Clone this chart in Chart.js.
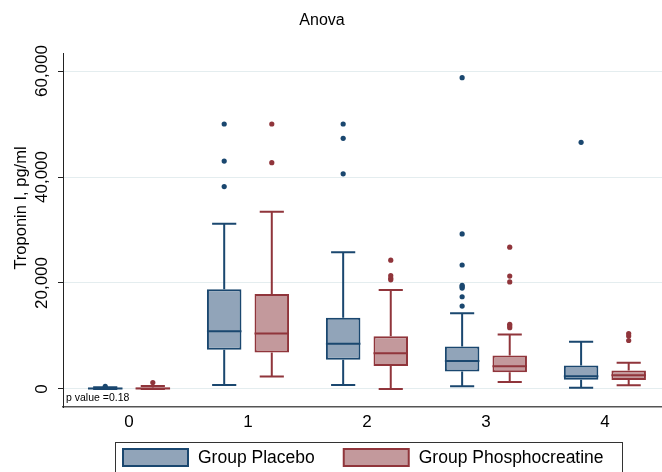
<!DOCTYPE html>
<html>
<head>
<meta charset="utf-8">
<script src="https://cdn.jsdelivr.net/npm/chart.js@4.4.1/dist/chart.umd.min.js"></script>
<style>
html, body { margin: 0; padding: 0; background: #fff; }
</style>
</head>
<body>
<canvas id="myChart" width="662" height="472"></canvas>
<script>
// categories on the x axis and tick values on the y axis
var categories = [0, 1, 2, 3, 4];
var y_ticks = [0, 20000, 40000, 60000];

// Group Placebo
var placebo_low = [0, 750, 750, 500, 250];
var placebo_q1 = [0, 7400, 5500, 3300, 1750];
var placebo_median = [100, 10900, 8550, 5300, 2400];
var placebo_q3 = [250, 18800, 13450, 8000, 4450];
var placebo_high = [350, 31200, 25800, 14300, 8900];
var placebo_outliers = [
  [500],
  [38200, 43000, 50000],
  [40600, 47300, 50000],
  [15650, 17400, 19050, 19300, 19550, 23400, 29250, 58750],
  [46550]
];

// Group Phosphocreatine
var pc_low = [0, 2350, 0, 1300, 700];
var pc_q1 = [0, 6900, 4350, 3150, 1700];
var pc_median = [100, 10450, 6750, 4300, 2600];
var pc_q3 = [300, 17900, 9950, 6300, 3500];
var pc_high = [550, 33450, 18700, 10300, 4950];
var pc_outliers = [
  [1200],
  [42700, 50000],
  [20600, 20900, 21400, 24300],
  [11550, 11900, 12200, 20200, 21300, 26750],
  [9150, 10000, 10450]
];

var font_family = "'Liberation Sans', Arial, Helvetica, sans-serif";

var groups = [
  { label: 'Group Placebo', low: placebo_low, q1: placebo_q1, median: placebo_median,
    q3: placebo_q3, high: placebo_high, outliers: placebo_outliers,
    fill: 'rgb(145, 164, 185)', line: 'rgb(26, 71, 111)' },
  { label: 'Group Phosphocreatine', low: pc_low, q1: pc_q1, median: pc_median,
    q3: pc_q3, high: pc_high, outliers: pc_outliers,
    fill: 'rgb(195, 153, 156)', line: 'rgb(144, 53, 59)' }
];

function box_data (g) {
  return categories.map(function (c, i) {
    return { x: c, y: [g.q1[i], g.q3[i]] };
  });
}

var box_plugin = {
  id: 'boxes',
  beforeDatasetsDraw: function (chart) {
    var ctx = chart.ctx;
    var ys = chart.scales.y;
    groups.forEach(function (g, di) {
      var meta = chart.getDatasetMeta(di);
      meta.data.forEach(function (bar, i) {
        var cap = bar.width * 0.7;
        ctx.save();
        ctx.strokeStyle = g.line;
        ctx.lineWidth = 2;
        ctx.beginPath();
        ctx.moveTo(bar.x, ys.getPixelForValue(g.q3[i]));
        ctx.lineTo(bar.x, ys.getPixelForValue(g.high[i]));
        ctx.moveTo(bar.x, ys.getPixelForValue(g.q1[i]));
        ctx.lineTo(bar.x, ys.getPixelForValue(g.low[i]));
        ctx.moveTo(bar.x - cap / 2, ys.getPixelForValue(g.high[i]));
        ctx.lineTo(bar.x + cap / 2, ys.getPixelForValue(g.high[i]));
        ctx.moveTo(bar.x - cap / 2, ys.getPixelForValue(g.low[i]));
        ctx.lineTo(bar.x + cap / 2, ys.getPixelForValue(g.low[i]));
        ctx.stroke();
        ctx.restore();
      });
    });
  },
  afterDatasetsDraw: function (chart) {
    var ctx = chart.ctx;
    var ys = chart.scales.y;
    groups.forEach(function (g, di) {
      var meta = chart.getDatasetMeta(di);
      meta.data.forEach(function (bar, i) {
        var half = bar.width / 2;
        var my = ys.getPixelForValue(g.median[i]);
        ctx.save();
        ctx.strokeStyle = g.line;
        ctx.lineWidth = 2;
        ctx.beginPath();
        ctx.moveTo(bar.x - half, my);
        ctx.lineTo(bar.x + half, my);
        ctx.stroke();
        ctx.fillStyle = g.line;
        g.outliers[i].forEach(function (v) {
          ctx.beginPath();
          ctx.arc(bar.x, ys.getPixelForValue(v), 2.6, 0, Math.PI * 2);
          ctx.fill();
        });
        ctx.restore();
      });
    });
  },
  afterDraw: function (chart) {
    var ctx = chart.ctx;
    var ys = chart.scales.y;
    ctx.save();
    ctx.fillStyle = '#000';

    // title
    ctx.font = '16px ' + font_family;
    ctx.textAlign = 'center';
    ctx.textBaseline = 'middle';
    ctx.fillText('Anova', 322, 21);

    // rotated y tick labels
    ctx.font = '17px ' + font_family;
    y_ticks.forEach(function (v) {
      ctx.save();
      ctx.translate(42, ys.getPixelForValue(v));
      ctx.rotate(-Math.PI / 2);
      ctx.fillText(v.toLocaleString('en-US'), 0, 0);
      ctx.restore();
    });

    // y axis title
    ctx.save();
    ctx.font = '16.5px ' + font_family;
    ctx.translate(21, 208);
    ctx.rotate(-Math.PI / 2);
    ctx.fillText('Troponin I, pg/ml', 0, 0);
    ctx.restore();

    // p value note
    ctx.font = '10.5px ' + font_family;
    ctx.textAlign = 'left';
    ctx.fillText('p value =0.18', 66, 398);

    // legend
    ctx.strokeStyle = '#333';
    ctx.lineWidth = 1;
    ctx.strokeRect(115.5, 442.5, 507, 40);
    ctx.font = '17.5px ' + font_family;
    var x = 123;
    groups.forEach(function (g) {
      ctx.fillStyle = g.fill;
      ctx.fillRect(x, 449, 65, 17);
      ctx.strokeStyle = g.line;
      ctx.lineWidth = 2;
      ctx.strokeRect(x, 449, 65, 17);
      ctx.fillStyle = '#000';
      ctx.fillText(g.label, x + 75, 458);
      x += 75 + ctx.measureText(g.label).width + 29;
    });
    ctx.restore();
  }
};

var ctx = document.getElementById('myChart').getContext('2d');

var chart = new Chart(ctx, {
  type: 'bar',
  data: {
    datasets: groups.map(function (g) {
      return {
        label: g.label,
        data: box_data(g),
        backgroundColor: g.fill,
        borderColor: g.line,
        borderWidth: 2,
        borderSkipped: false,
        categoryPercentage: 0.8,
        barPercentage: 0.725
      };
    })
  },
  plugins: [box_plugin],
  options: {
    responsive: false,
    animation: false,
    layout: { padding: { top: 53, left: 0, right: 0, bottom: 35 } },
    plugins: {
      legend: { display: false },
      title: { display: false },
      tooltip: { enabled: false }
    },
    scales: {
      x: {
        type: 'linear',
        offset: false,
        min: -0.555,
        max: 4.48,
        afterBuildTicks: function (s) {
          s.ticks = categories.map(function (v) { return { value: v }; });
        },
        afterFit: function (s) { s.height = 30; },
        ticks: { color: '#000', padding: 5, font: { size: 17, family: font_family } },
        grid: { color: 'rgba(0,0,0,0)', drawTicks: false, offset: false },
        border: { color: '#555', width: 1.5 }
      },
      y: {
        min: -3400,
        max: 63400,
        afterBuildTicks: function (s) {
          s.ticks = y_ticks.map(function (v) { return { value: v }; });
        },
        afterFit: function (s) { s.width = 63; },
        ticks: { display: false },
        grid: { color: '#e4edef', tickColor: '#222', tickLength: 5, lineWidth: 1 },
        border: { color: '#222', width: 1 }
      }
    }
  }
});
</script>
</body>
</html>
